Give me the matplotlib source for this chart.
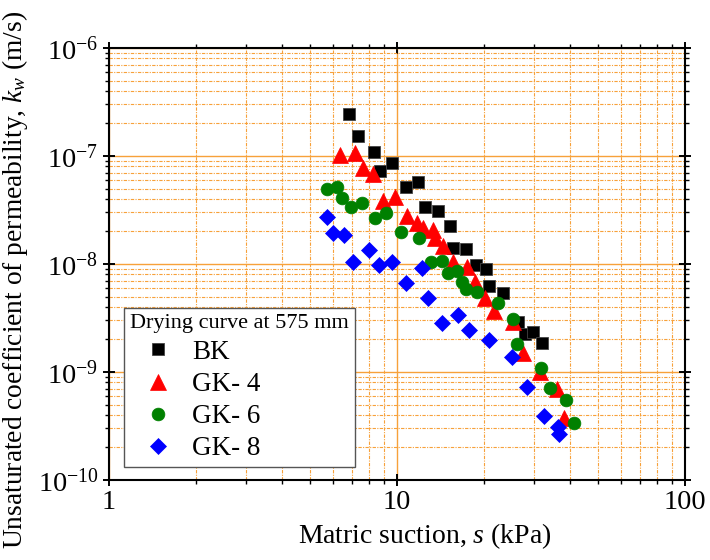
import matplotlib
matplotlib.use("Agg")
import matplotlib.pyplot as plt
from matplotlib.ticker import FixedLocator, LogLocator, NullFormatter

plt.rcParams["font.family"] = ["Liberation Serif", "DejaVu Serif"]
plt.rcParams["mathtext.fontset"] = "custom"
plt.rcParams["mathtext.rm"] = "Liberation Serif"
plt.rcParams["mathtext.it"] = "Liberation Serif:italic"
plt.rcParams["mathtext.default"] = "regular"

# Drying curve at 575 mm: matric suction (kPa) vs. unsaturated permeability (m/s)
bk_s = [6.81, 7.32, 8.32, 8.73, 9.61, 10.75, 11.83, 12.51, 13.88, 15.28,
        15.65, 17.36, 18.81, 20.37, 20.87, 23.34, 26.31, 27.82, 29.66, 31.87]
bk_k = [2.45e-7, 1.53e-7, 1.09e-7, 7.26e-8, 8.61e-8, 5.16e-8, 5.74e-8, 3.37e-8, 3.09e-8, 2.25e-8,
        1.41e-8, 1.38e-8, 9.79e-9, 8.99e-9, 6.26e-9, 5.39e-9, 2.90e-9, 2.25e-9, 2.35e-9, 1.86e-9]

gk4_s = [6.34, 7.15, 7.62, 8.25, 8.94, 9.84, 10.83, 11.73, 12.31, 13.34, 13.55,
         14.44, 15.65, 17.50, 18.66, 20.21, 21.72, 25.27, 27.38, 31.37, 35.94, 38.01]
gk4_k = [1.02e-7, 1.07e-7, 7.74e-8, 6.81e-8, 3.83e-8, 4.17e-8, 2.78e-8, 2.40e-8, 2.15e-8, 2.06e-8, 1.74e-8,
         1.47e-8, 1.04e-8, 9.38e-9, 6.81e-9, 4.84e-9, 3.67e-9, 2.90e-9, 1.50e-9, 1.00e-9, 6.96e-10, 3.75e-10]

gk6_s = [5.71, 6.19, 6.44, 6.92, 7.56, 8.39, 9.16, 10.33, 11.92, 13.13, 14.33, 15.04,
         16.16, 16.82, 17.36, 18.96, 22.42, 25.27, 26.10, 31.62, 33.98, 38.63, 41.18]
gk6_k = [4.95e-8, 5.16e-8, 4.08e-8, 3.37e-8, 3.67e-8, 2.67e-8, 2.97e-8, 1.98e-8, 1.74e-8, 1.04e-8, 1.07e-8, 8.25e-9,
         8.61e-9, 6.81e-9, 5.87e-9, 5.51e-9, 4.35e-9, 3.09e-9, 1.82e-9, 1.09e-9, 7.11e-10, 5.51e-10, 3.37e-10]

gk8_s = [5.71, 6.00, 6.55, 7.04, 7.99, 8.66, 9.61, 10.75, 12.21, 12.81,
         14.33, 16.29, 17.78, 20.87, 25.07, 28.28, 32.39, 36.23, 36.52]
gk8_k = [2.72e-8, 1.94e-8, 1.86e-8, 1.04e-8, 1.35e-8, 9.79e-9, 1.04e-8, 6.67e-9, 9.18e-9, 4.84e-9,
         2.84e-9, 3.37e-9, 2.45e-9, 1.98e-9, 1.38e-9, 7.26e-10, 3.91e-10, 3.09e-10, 2.67e-10]

x_ticks = [1, 10, 100]
x_tick_labels = ["1", "10", "100"]
y_ticks = [1e-10, 1e-9, 1e-8, 1e-7, 1e-6]
y_tick_labels = ["10$^{-10}$", "10$^{-9}$", "10$^{-8}$", "10$^{-7}$", "10$^{-6}$"]

fig = plt.figure(figsize=(7.1, 5.6), dpi=100)
ax = fig.add_axes([109 / 710, 1 - 480 / 560, 576 / 710, 432 / 560])
ax.set_xscale("log")
ax.set_yscale("log")
ax.set_xlim(1, 100)
ax.set_ylim(1e-10, 1e-6)

grid_color = "#F7A13A"
ax.grid(True, which="major", color=grid_color, lw=1.0, ls="-", zorder=0)
ax.grid(True, which="minor", color=grid_color, lw=0.8, ls=(0, (3, 1.2, 1, 1.2)), zorder=0)
ax.set_axisbelow(True)

ax.plot(bk_s, bk_k, ls="none", marker="s", ms=8.6, mfc="black", mec="#444444", mew=0.6, label="BK", zorder=3)
ax.plot(gk4_s, gk4_k, ls="none", marker="^", ms=11, mfc="red", mec="red", mew=0.5, label="GK- 4", zorder=4)
ax.plot(gk6_s, gk6_k, ls="none", marker="o", ms=9.2, mfc="green", mec="green", mew=0.5, label="GK- 6", zorder=5)
ax.plot(gk8_s, gk8_k, ls="none", marker="D", ms=8.2, mfc="blue", mec="blue", mew=0.5, label="GK- 8", zorder=6)

ax.xaxis.set_major_locator(FixedLocator(x_ticks))
ax.set_xticklabels(x_tick_labels)
ax.yaxis.set_major_locator(FixedLocator(y_ticks))
ax.set_yticklabels(y_tick_labels)
ax.xaxis.set_minor_locator(LogLocator(base=10, subs=range(2, 10), numticks=20))
ax.yaxis.set_minor_locator(LogLocator(base=10, subs=range(2, 10), numticks=20))
ax.xaxis.set_minor_formatter(NullFormatter())
ax.yaxis.set_minor_formatter(NullFormatter())

ax.tick_params(which="major", direction="inout", length=9, width=1.4, labelsize=20.5,
               top=True, right=True, pad=3)
ax.tick_params(which="minor", direction="out", length=3, width=1.0, top=True, right=True)
for sp in ax.spines.values():
    sp.set_linewidth(1.5)
    sp.set_zorder(7)

ax.set_xlabel("Matric suction, $\\mathit{s}$ (kPa)", fontsize=20)
ax.xaxis.set_label_coords(0.549, -0.095)
ax.set_ylabel("Unsaturated coefficient of permeability, $\\mathit{k_w}$ (m/s)", fontsize=19.8)
ax.yaxis.set_label_coords(-0.137, 0.462)

leg = ax.legend(title="Drying curve at 575 mm", loc="lower left", bbox_to_anchor=(0.026, 0.03),
                fontsize=19.5, title_fontsize=16, frameon=True, fancybox=False, framealpha=1,
                edgecolor="#555555", borderpad=0.22, handletextpad=0.2, labelspacing=0.26,
                handlelength=2.1, borderaxespad=0)
leg._legend_box.align = "left"
leg.get_frame().set_linewidth(1.0)
leg.set_zorder(8)

fig.savefig("out.png", dpi=100)
